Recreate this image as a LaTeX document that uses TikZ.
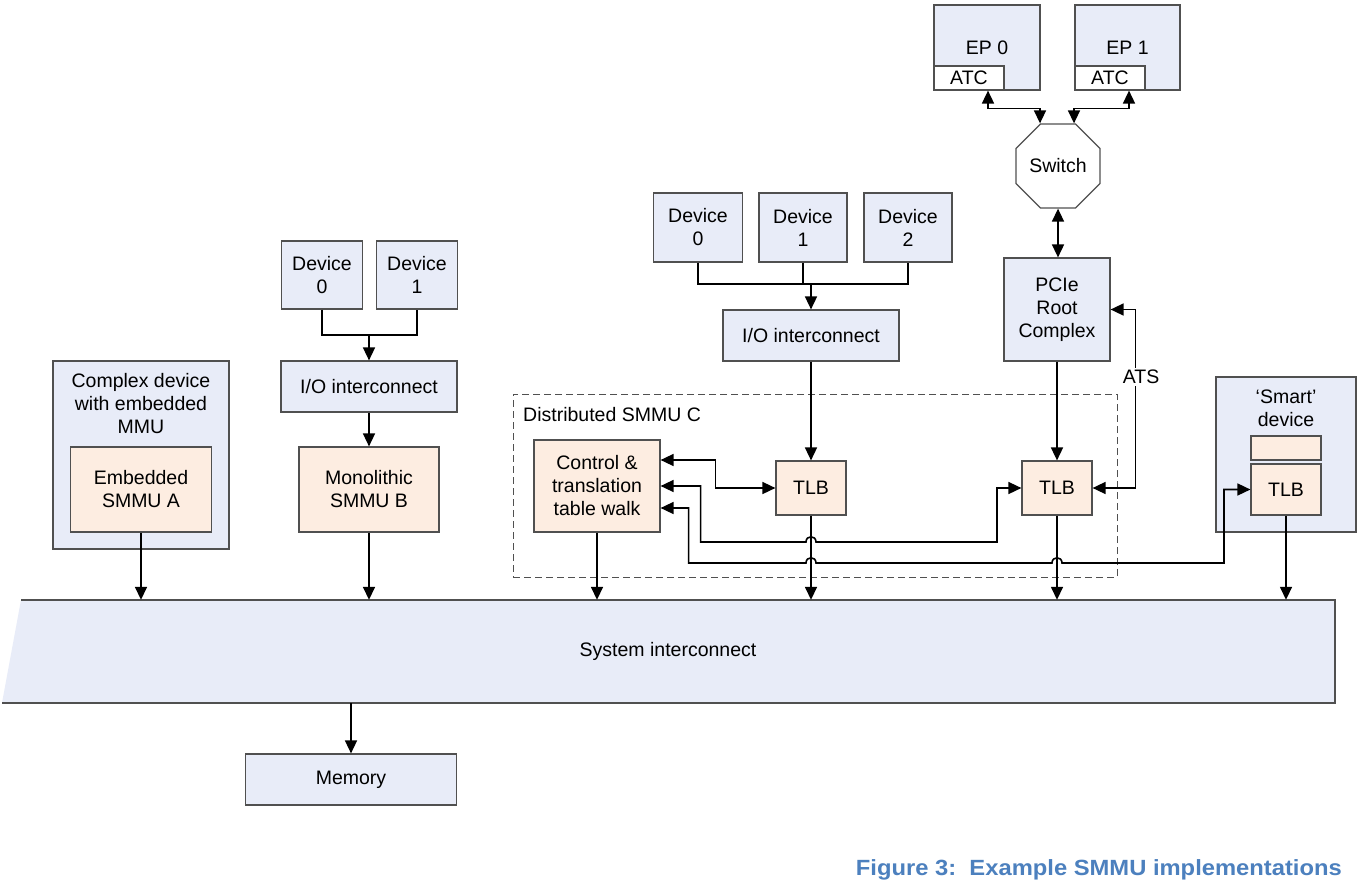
\documentclass[tikz,border=0pt]{standalone}
\usepackage{fontspec}
\setmainfont{Liberation Sans}
\usetikzlibrary{arrows.meta,shapes.geometric}
\definecolor{bluefill}{RGB}{232,236,248}
\definecolor{peach}{RGB}{253,237,225}
\definecolor{edgegray}{RGB}{80,80,80}
\definecolor{capblue}{RGB}{76,128,190}
\begin{document}
\begin{tikzpicture}[x=1pt,y=-1pt,
  every node/.style={font=\fontsize{19.5}{23}\selectfont, inner sep=0pt, align=center},
  bbox/.style={draw=edgegray, line width=1.2pt, fill=bluefill},
  pbox/.style={draw=edgegray, line width=1.2pt, fill=peach},
  wbox/.style={draw=edgegray, line width=1.2pt, fill=white},
  conn/.style={line width=1.6pt, black},
  arr/.style={conn, -{Triangle[length=13pt,width=12pt]}},
  darr/.style={conn, {Triangle[length=13pt,width=12pt]}-{Triangle[length=13pt,width=12pt]}},
  wh/.style={minimum width=#1},
  ht/.style={minimum height=#1},
]
\useasboundingbox (0,0) rectangle (1364,883);
\fill[white] (0,0) rectangle (1364,883);

% System interconnect
\fill[bluefill] (21,600) -- (1335,600) -- (1335,703) -- (2,703) -- cycle;
\draw[edgegray, line width=1.2pt] (21,600) -- (1335,600) -- (1335,703) -- (2,703);
\node (sys) at (678,651.5) [minimum width=1314pt, minimum height=103pt] {};
\node (systext) at (668,651) {System interconnect};

% Memory
\node[bbox, wh=211pt, ht=51pt] (mem) at (351,779.5) {Memory};

% PCIe side
\node[bbox, wh=106pt, ht=85pt] (ep0) at (987,47.5) {EP 0};
\node[wbox, wh=70pt, ht=24pt] (atc0) at (969,78) {ATC};
\node[bbox, wh=105pt, ht=85pt] (ep1) at (1127.5,47.5) {EP 1};
\node[wbox, wh=70pt, ht=24pt] (atc1) at (1110,78) {ATC};
\node[regular polygon, regular polygon sides=8, minimum size=91pt, draw=edgegray, line width=1.2pt, fill=white] (sw) at (1058,166) {Switch};
\node[bbox, wh=106pt, ht=103pt] (pcie) at (1057,309.5) {PCIe\\Root\\Complex};

% middle devices
\node[bbox, wh=89pt, ht=69pt] (md0) at (698,227.5) {Device\\0};
\node[bbox, wh=88pt, ht=69pt] (md1) at (803,227.5) {Device\\1};
\node[bbox, wh=88pt, ht=69pt] (md2) at (908,227.5) {Device\\2};
\node[bbox, wh=176pt, ht=51pt] (mio) at (811,335.5) {I/O interconnect};

% left devices
\node[bbox, wh=81pt, ht=68pt] (ld0) at (322,275) {Device\\0};
\node[bbox, wh=81pt, ht=68pt] (ld1) at (417,275) {Device\\1};
\node[bbox, wh=176pt, ht=51pt] (lio) at (369,386.5) {I/O interconnect};
\node[pbox, wh=140pt, ht=85pt] (mono) at (369,489.5) {Monolithic\\SMMU B};

% complex device
\node[bbox, wh=176pt, ht=188pt] (cplx) at (141,455) {};
\node (cplxtext) at (141,404) {Complex device\\with embedded\\MMU};
\node[pbox, wh=141pt, ht=85pt] (emb) at (141,489.5) {Embedded\\SMMU A};

% distributed SMMU C
\node[draw=edgegray, dashed, dash pattern=on 7pt off 4pt, line width=1pt, wh=604pt, ht=183pt] (dist) at (815,485.5) {};
\node[anchor=west] (disttext) at (523,415) {Distributed SMMU C};
\node[pbox, wh=126pt, ht=92pt] (ctrl) at (597,486) {Control \&\\translation\\table walk};
\node[pbox, wh=70pt, ht=54pt] (tlb1) at (811,488) {TLB};
\node[pbox, wh=70pt, ht=54pt] (tlb2) at (1057,488) {TLB};

% smart device
\node[bbox, wh=140pt, ht=155pt] (smart) at (1286,454.5) {};
\node (smarttext) at (1286,408) {‘Smart’\\device};
\node[pbox, wh=70pt, ht=24pt] (sempty) at (1286,448) {};
\node[pbox, wh=70pt, ht=51pt] (stlb) at (1286,489.5) {TLB};

% caption
\node[anchor=base east, text=capblue, font=\fontsize{22}{26}\selectfont\bfseries] (cap) at (1342,875) {\scalebox{1.08}[1]{Figure 3:\ \ Example SMMU implementations}};

% ---------- connectors ----------
% EP / switch
\draw[darr] ([xshift=19pt]atc0.south) -- ++(0,18) -| ([xshift=-18pt]sw.north);
\draw[darr] ([xshift=19pt]atc1.south) -- ++(0,18) -| ([xshift=16pt]sw.north);
\draw[darr] (sw.south) -- (sw.south |- pcie.north);

% left devices
\coordinate (lj) at (369,335);
\draw[conn] (ld0.south) |- (lj) -| (ld1.south);
\draw[arr] (lj) -- (lio.north);
\draw[arr] (lio.south) -- (mono.north);
\draw[arr] (mono.south) -- (mono.south |- sys.north);
\draw[arr] (emb.south) -- (emb.south |- sys.north);

% middle devices
\coordinate (mj) at (811,284);
\draw[conn] (md0.south) |- (md2.south |- mj) -- (md2.south);
\draw[conn] (md1.south) -- (md1.south |- mj);
\draw[arr] (mj) -- (mio.north);
\draw[arr] (mio.south) -- (tlb1.north);
\draw[arr] (pcie.south) -- (pcie.south |- tlb2.north);

% down to system interconnect
\draw[arr] (ctrl.south) -- (ctrl.south |- sys.north);
\draw[arr] (tlb1.south) -- (tlb1.south |- sys.north);
\draw[arr] (tlb2.south) -- (tlb2.south |- sys.north);
\draw[arr] (stlb.south) -- (stlb.south |- sys.north);
\draw[arr] (mem.north |- sys.south) -- (mem.north);

% ATS
\draw[darr] (tlb2.east) -- ++(43,0) |- (pcie.east);
\node[fill=white, inner sep=2pt] (ats) at (1141,377) {ATS};

% control links
\draw[darr] ([yshift=26pt]ctrl.east) -- ++(55,0) |- (tlb1.west);
\draw[darr] (ctrl.east) -- ++(40,0) -- ++(0,56) -- (806,542)
  .. controls (806,535) and (816,535) .. (816,542) -- (997,542) |- (tlb2.west);
\draw[darr] ([yshift=-22pt]ctrl.east) -- ++(28,0) -- ++(0,55) -- (806,563)
  .. controls (806,556) and (816,556) .. (816,563) -- (1052,563)
  .. controls (1052,556) and (1062,556) .. (1062,563) -- (1224,563) |- (stlb.west);
\end{tikzpicture}
\end{document}
